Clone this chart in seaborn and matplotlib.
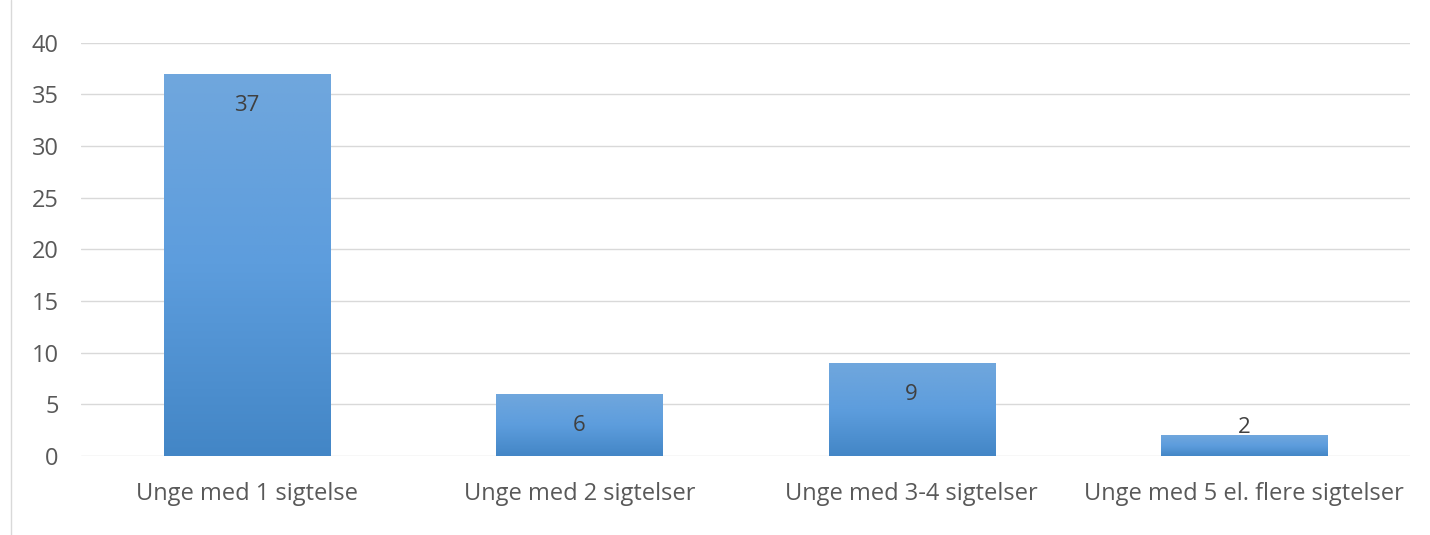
import matplotlib
matplotlib.use("Agg")
import matplotlib.pyplot as plt
import numpy as np
import pandas as pd
import seaborn as sns
from matplotlib.colors import LinearSegmentedColormap

categories = ["Unge med 1 sigtelse", "Unge med 2 sigtelser",
              "Unge med 3-4 sigtelser", "Unge med 5 el. flere sigtelser"]
counts = [37, 6, 9, 2]
y_ticks = [0, 5, 10, 15, 20, 25, 30, 35, 40]

sns.set_theme(style="white")
plt.rcParams["font.family"] = ["Open Sans", "DejaVu Sans"]

df = pd.DataFrame({"kategori": categories, "antal": counts})

fig = plt.figure(figsize=(14.3, 5.35), dpi=100)
ax = fig.add_axes([0.0566, 0.148, 0.9294, 0.772])

sns.barplot(data=df, x="kategori", y="antal", color="#5b9bd5",
            width=0.5, ax=ax, zorder=2)

# gradient fill, lighter at top, darker at bottom
cmap = LinearSegmentedColormap.from_list("bar", ["#4386c6", "#5d9ddd", "#70a7dd"])
grad = np.linspace(0, 1, 256).reshape(-1, 1)
for p in ax.patches:
    x0, y0 = p.get_x(), p.get_y()
    w, h = p.get_width(), p.get_height()
    p.set_facecolor("none")
    p.set_edgecolor("none")
    im = ax.imshow(grad, cmap=cmap, origin="lower", aspect="auto",
                   extent=[x0, x0 + w, y0, y0 + h], zorder=2)
    im.set_clip_path(p)

ax.set_xlim(-0.5, len(categories) - 0.5)
ax.set_ylim(0, 40)
ax.set_yticks(y_ticks)
ax.yaxis.grid(True, color="#d9d9d9", linewidth=1)
ax.set_axisbelow(True)
for s in ax.spines.values():
    s.set_visible(False)
ax.set_xlabel("")
ax.set_ylabel("")
ax.tick_params(axis="both", length=0, labelsize=17, colors="#595959")
ax.tick_params(axis="x", pad=19)
ax.tick_params(axis="y", pad=16)

# value labels
for i, v in enumerate(counts):
    off = -32 if v > 3 else 8
    ax.annotate(str(v), (i, v), xytext=(0, off), textcoords="offset pixels",
                ha="center", va="center", fontsize=16, color="#404040", zorder=3)

# chart border line on the left
fig.add_artist(plt.Line2D([0.0077, 0.0077], [0.0, 1.0], color="#d9d9d9",
                          linewidth=1, transform=fig.transFigure))

fig.savefig("out.png", dpi=100, facecolor="white")
